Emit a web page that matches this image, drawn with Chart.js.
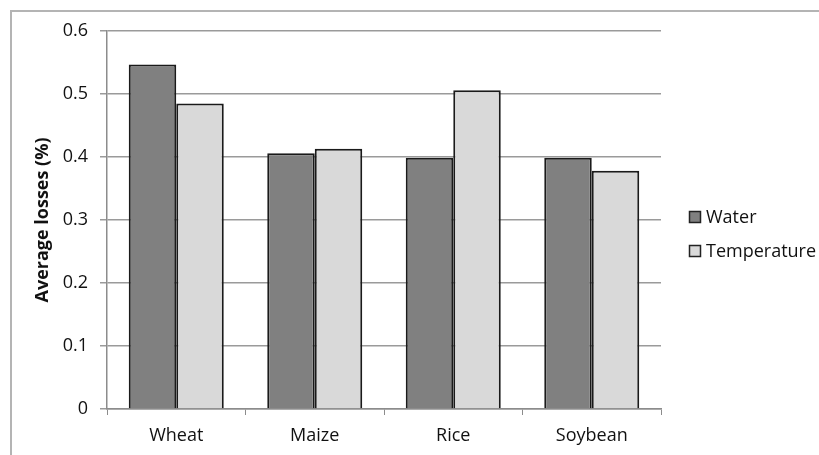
<!DOCTYPE html>
<html>
<head>
<meta charset="utf-8">
<script src="https://cdn.jsdelivr.net/npm/chart.js@4"></script>
<style>
    body { margin: 0; background: #fff; }
    #wrap { position: relative; width: 819px; height: 455px; }
    #frame {
        position: absolute; left: 10px; top: 10px; right: 0; bottom: -5px;
        border-left: 2px solid #b4b4b4; border-top: 2px solid #b4b4b4;
    }
    canvas { position: absolute; left: 0; top: 0; }
</style>
</head>
<body>
<div id="wrap">
    <div id="frame"></div>
    <canvas id="chart" width="819" height="455"></canvas>
</div>
<script>
// データ
const crops = ['Wheat', 'Maize', 'Rice', 'Soybean'];
const waterLosses = [0.547, 0.406, 0.399, 0.399];
const temperatureLosses = [0.485, 0.413, 0.506, 0.378];
const yTicks = [0, 0.1, 0.2, 0.3, 0.4, 0.5, 0.6];

const FONT = "'Open Sans', 'Liberation Sans', sans-serif";

// 右側の凡例を描くプラグイン
const sideLegend = {
    id: 'sideLegend',
    afterDraw(chart) {
        const ctx = chart.ctx;
        const x = 689;
        const rows = [217, 251];
        ctx.save();
        ctx.font = '18px ' + FONT;
        ctx.textBaseline = 'middle';
        chart.data.datasets.forEach((ds, i) => {
            const y = rows[i];
            ctx.fillStyle = ds.backgroundColor;
            ctx.fillRect(x, y - 6, 12, 12);
            ctx.strokeStyle = '#222';
            ctx.lineWidth = 1.5;
            ctx.strokeRect(x + 0.5, y - 5.5, 11, 11);
            ctx.fillStyle = '#111';
            ctx.fillText(ds.label, x + 17, y + 1);
        });
        ctx.restore();
    }
};

new Chart(document.getElementById('chart'), {
    type: 'bar',
    data: {
        labels: crops,
        datasets: [
            {
                label: 'Water',
                data: waterLosses,
                backgroundColor: '#808080',
                borderColor: '#1a1a1a',
                borderWidth: 2
            },
            {
                label: 'Temperature',
                data: temperatureLosses,
                backgroundColor: '#d9d9d9',
                borderColor: '#1a1a1a',
                borderWidth: 2
            }
        ]
    },
    options: {
        responsive: false,
        animation: false,
        layout: { padding: { left: 0, top: 31, right: 158, bottom: 0 } },
        datasets: {
            bar: { barPercentage: 1, categoryPercentage: 0.686 }
        },
        plugins: {
            legend: { display: false },
            tooltip: { enabled: false }
        },
        scales: {
            x: {
                afterFit(scale) { scale.height = 46; },
                grid: {
                    offset: true,
                    drawOnChartArea: false,
                    drawTicks: true,
                    tickLength: 6,
                    color: '#8c8c8c'
                },
                border: { color: '#8c8c8c', width: 1.5 },
                ticks: {
                    color: '#111',
                    padding: 10,
                    font: { family: FONT, size: 18 }
                }
            },
            y: {
                min: 0,
                max: 0.6,
                afterFit(scale) { scale.width = 107; },
                afterBuildTicks(scale) {
                    scale.ticks = yTicks.map(v => ({ value: v }));
                },
                grid: {
                    color: '#9a9a9a',
                    lineWidth: 1.5,
                    tickLength: 7
                },
                border: { color: '#8c8c8c', width: 1.5 },
                ticks: {
                    color: '#111',
                    padding: 12,
                    font: { family: FONT, size: 18 },
                    callback: v => String(Math.round(v * 10) / 10)
                },
                title: {
                    display: true,
                    text: 'Average losses (%)',
                    color: '#111',
                    padding: { top: 32, bottom: 0 },
                    font: { family: FONT, size: 18, weight: 'bold' }
                }
            }
        }
    },
    plugins: [sideLegend]
});
</script>
</body>
</html>
